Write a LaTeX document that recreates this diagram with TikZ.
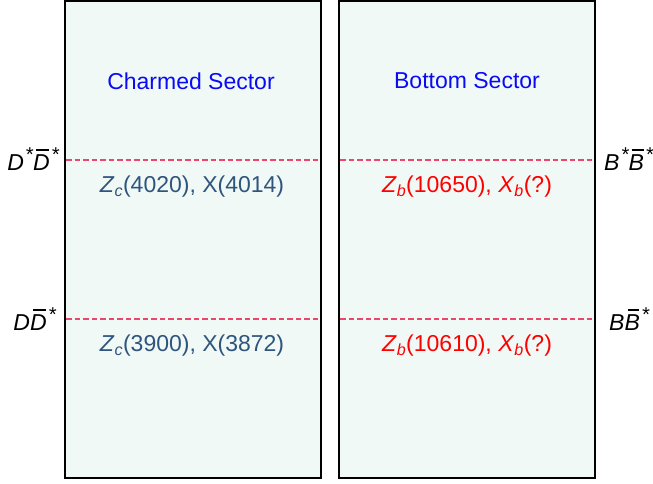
\documentclass[tikz,border=0pt]{standalone}
\usepackage{fontspec}
\setmainfont{Liberation Sans}
\definecolor{boxfill}{RGB}{240,249,246}
\definecolor{headblue}{RGB}{10,10,245}
\definecolor{charmblue}{RGB}{47,85,125}
\definecolor{botred}{RGB}{255,0,0}
\definecolor{dashpink}{RGB}{236,70,110}
\newcommand{\ovl}[1]{\setbox0\hbox{\itshape #1}\rlap{\hskip0.13em\rule[0.83em]{\dimexpr\wd0-0.15em\relax}{0.075em}}\box0}
\newcommand{\strs}{\kern0.06em\raisebox{0.36em}{\fontsize{20}{20}\selectfont\itshape *}}
\begin{document}
\begin{tikzpicture}[x=1pt,y=-1pt,
  sectorbox/.style={draw=black,line width=2pt,fill=boxfill},
  threshold/.style={draw=dashpink,line width=2.7pt,dash pattern=on 5.5pt off 3pt},
  headtxt/.style={font=\fontsize{23}{27}\selectfont,text=headblue,inner sep=0pt},
  charmtxt/.style={font=\fontsize{23}{27}\selectfont,text=charmblue,inner sep=0pt},
  bottxt/.style={font=\fontsize{23}{27}\selectfont,text=botred,inner sep=0pt},
  lbl/.style={font=\fontsize{23}{27}\selectfont,text=black,inner sep=0pt}]
\useasboundingbox (0,0) rectangle (653,483);
\path[sectorbox] (65,1) rectangle (321,478);
\path[sectorbox] (339,1) rectangle (595,478);
\coordinate (l1a) at (66,160); \coordinate (l1b) at (320,160);
\coordinate (r1a) at (340,160); \coordinate (r1b) at (594,160);
\coordinate (l2a) at (66,319); \coordinate (l2b) at (320,319);
\coordinate (r2a) at (340,319); \coordinate (r2b) at (594,319);
\draw[threshold] (l1a) -- (l1b);
\draw[threshold] (r1a) -- (r1b);
\draw[threshold] (l2a) -- (l2b);
\draw[threshold] (r2a) -- (r2b);
\node[headtxt] (hc) at (191,81) {Charmed Sector};
\node[headtxt] (hb) at (467,81) {Bottom Sector};
\node[charmtxt] (c1) at (192,187) {\textit{Z}\textsubscript{\itshape c}(4020), X(4014)};
\node[charmtxt] (c2) at (192,346) {\textit{Z}\textsubscript{\itshape c}(3900), X(3872)};
\node[bottxt] (b1) at (467,187) {\textit{Z}\textsubscript{\itshape b}(10650), \textit{X}\textsubscript{\itshape b}(?)};
\node[bottxt] (b2) at (467,346) {\textit{Z}\textsubscript{\itshape b}(10610), \textit{X}\textsubscript{\itshape b}(?)};
\node[lbl,anchor=east] (d1) at (59,159) {\textit{D}\strs\ovl{D}\strs};
\node[lbl,anchor=east] (d2) at (56,319) {\textit{D}\ovl{D}\strs};
\node[lbl,anchor=west] (e1) at (604,159) {\textit{B}\strs\ovl{B}\strs};
\node[lbl,anchor=west] (e2) at (609,319) {\textit{B}\ovl{B}\strs};
\end{tikzpicture}
\end{document}
